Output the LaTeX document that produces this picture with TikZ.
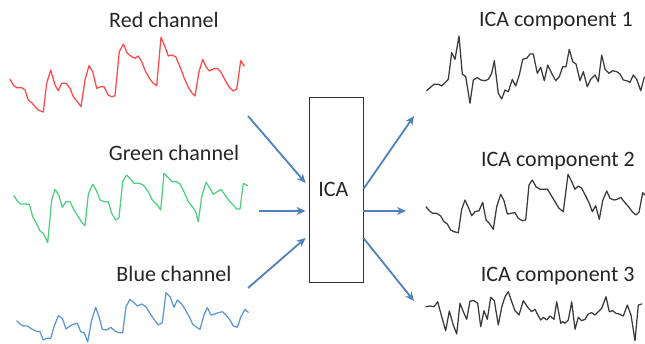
\documentclass[tikz,border=0pt]{standalone}
\usepackage{fontspec}
\setmainfont{Carlito}
\usetikzlibrary{arrows.meta}
\definecolor{sigred}{RGB}{255,72,72}
\definecolor{siggreen}{RGB}{78,208,128}
\definecolor{sigblue}{RGB}{88,152,212}
\definecolor{siggray}{RGB}{58,58,58}
\definecolor{flowblue}{RGB}{79,129,189}
\tikzset{
  label/.style={anchor=base, inner sep=0pt, font=\fontsize{22}{26}\selectfont, text=black!85},
  wave/.style={line width=1.25pt, line join=round, line cap=round},
  flow/.style={draw=flowblue, line width=1.8pt, -{Stealth[length=9pt,width=8pt]}},
  icabox/.style={draw=black!80, line width=0.8pt, fill=white, minimum width=54pt, minimum height=185pt, inner sep=0pt}
}
\begin{document}
\begin{tikzpicture}[x=1pt,y=-1pt]
\useasboundingbox (0,0) rectangle (645,343);
\fill[white] (0,0) rectangle (645,343);

% labels
\node[label] (lred)   at (164,27.3)  {Red channel};
\node[label] (lgreen) at (174,160.7) {Green channel};
\node[label] (lblue)  at (174,281.7) {Blue channel};
\node[label] (lc1)    at (556,26.7)  {ICA component 1};
\node[label] (lc2)    at (558,166.7) {ICA component 2};
\node[label] (lc3)    at (557.7,281) {ICA component 3};

% input signals
\draw[wave, sigred] plot coordinates {
(10,79.3) (13.3,85) (16.7,87.7) (21.7,87.7) (25,90) (28.3,100) (31.7,102.7) (35,106.7) (38.3,110) (43.3,112)
(46.7,83.3) (50.7,70) (55,85) (58.3,90.7) (61.7,83.3) (66,83.3) (70,88.3) (73.3,96.7) (77.3,101.7) (81,106.7)
(85,80) (89,65.7) (92.7,71.7) (96.7,88.3) (100.7,86.7) (104,86.7) (108.3,95) (111.7,96.7) (115,95.7)
(119.3,51.7) (123.3,44) (127.3,53.3) (131.7,56.7) (135,58.3) (138.3,56) (141.7,61.7) (145.7,71.7) (150,79.3)
(153.3,83.3) (156.7,85.7) (161,37.3) (165,46.7) (168.3,56) (171.7,55) (175.7,56.7) (180,66.7) (184.3,78.3)
(188.3,87.3) (191.7,92.7) (195,96) (199,71.7) (202.7,59.3) (206,66.7) (209.3,71) (213.3,69) (217.3,68.3)
(220.7,71.7) (225,80) (229.3,87.3) (233.3,91) (236.7,89.3) (240.7,60.7) (244.3,66)};

\draw[wave, siggreen] plot coordinates {
(14,195.7) (17.3,201) (20.7,204) (25,204) (29.3,204.3) (32.7,216.7) (36,222.3) (40,231) (43.3,233.3) (47.7,242.7)
(51.7,200) (55,189.3) (59,195.7) (62.3,207.3) (66,201.7) (70,201.7) (74,210) (77.3,215) (81.7,222.3) (85,225.7)
(88.3,194.3) (92.7,184.3) (96.7,191) (100,200) (104,201.7) (108.3,201.7) (111.7,213.3) (115.7,220) (119,217.7)
(122.7,181.7) (126.7,175) (130.7,179.3) (134,183.3) (139.3,183.3) (143.3,185) (148.3,191.7) (152.3,200)
(156.7,204.3) (160.7,210) (164,173.3) (168.3,177.7) (172.3,181.7) (176.7,181.7) (180,184) (184,191.7)
(188.3,201.7) (192.3,206.7) (195.7,211.7) (198.3,221.7) (201.7,196.7) (206,182.3) (210,188.3) (213.3,194.3)
(217.3,191.7) (221,189.3) (225,195) (229.3,201) (233.3,205) (236.7,209) (240,209) (243.3,183.3) (247.3,185.7)};

\draw[wave, sigblue] plot coordinates {
(16.7,320.7) (20,324) (23.3,326) (27.3,326) (31.7,329) (36,331) (40,331.7) (43.3,340) (46.7,338.3) (50.7,338.3)
(54,326.7) (58.3,315.7) (62.3,318.3) (66,329) (70,326) (73.3,324.3) (77.3,323.3) (80.7,331.7) (84,332.7)
(87.7,341.7) (91.7,320) (95.7,307.3) (99,316.7) (102.3,329.3) (106.7,330) (110.7,327.3) (115,331) (119,332.7)
(122.7,332.7) (126,306.7) (130,299.3) (134,302.7) (137.3,306) (141.7,304) (145.7,306.7) (150,313.3) (154,319.3)
(158.3,325) (162.3,322.7) (166,292.7) (170,296.7) (174,307.3) (177.3,300) (181.7,304) (185,309.3) (189.3,316.7)
(192.7,324.3) (196.7,327.3) (200,329.3) (204,315) (207.3,307.7) (211,315) (215,314) (218.3,312.7) (222.3,311.7)
(226,315) (230,320) (233.3,326) (237.3,327.3) (240.7,317.3) (245,309.3) (248.3,312.3)};

% separated components
\draw[wave, siggray] plot coordinates {
(426.7,90.7) (430,87.7) (434,84.3) (438.3,84.3) (441.7,86) (445,82.7) (448.3,79.3) (451.7,52.7) (455,59.3) (459,36)
(462.3,74) (465.7,76.7) (470,103.3) (473.3,80) (477.3,77.7) (481,80) (485,80.7) (488.3,79.3) (491.7,73.3)
(494.3,60.7) (498.3,93.3) (501.7,99) (505,90) (508.3,91.7) (512.3,79.3) (515.7,86) (519.3,75) (522.7,59.3)
(526.7,58.3) (530,54) (533.3,54) (537.3,73.3) (540.7,67.3) (544.3,80.7) (547.7,65) (551.7,73.3) (555.7,80.7)
(559.3,76.7) (562.7,66.7) (566,66.7) (569.3,49.3) (572.7,61.7) (576,64) (580,80.7) (583.3,71.7) (587.3,86.7)
(590.7,79.3) (595,75) (598.3,81.7) (601.7,55) (605,69.3) (609,73.3) (612.7,70.7) (616.7,71.7) (620,74) (623.3,80)
(626.7,80.7) (630,82.3) (633.3,75) (636.7,79.3) (640.7,90.7) (644.3,77.3)};

\draw[wave, siggray] plot coordinates {
(426,206.7) (429.3,210.7) (432.7,213.3) (436.7,213.3) (440.7,216) (444,221.7) (447.3,224) (450.7,230) (454,231.7)
(458.3,232.7) (461.7,209.3) (465,200) (468.3,207.3) (471.7,215.7) (475,211.7) (479,210.7) (482.7,202.3) (486,220)
(489.3,223.3) (493.3,229.3) (496.7,206.7) (500.7,194.3) (504,200.7) (507.3,214) (511,213.3) (515,212.7)
(518.3,218.3) (522.3,220.7) (525.7,220) (529,185) (532.3,180) (536,186.7) (540,189.3) (544,189.3) (547.3,189)
(551,195) (555,201.7) (559,208.3) (563.3,211.7) (568,174.3) (571.7,181.7) (575,189.3) (578.3,186) (581.7,188.3)
(585.7,196) (589,202.7) (592.3,211.7) (595.7,205.7) (599.3,219.3) (602.7,200.7) (606.7,191) (610,198.3) (614,200)
(617.3,199.3) (620.7,197.3) (625,202.7) (629,207.3) (632.3,211.7) (635.7,215) (639,212.3) (642.7,192.7) (645,195)};

\draw[wave, siggray] plot coordinates {
(426,306.7) (430,306) (434,306.7) (437.7,301.7) (441.7,316.7) (445.7,330.7) (449.3,311) (453.3,325) (456.7,334)
(460,303.3) (463.3,311.7) (466.7,319.3) (470,301) (474,300.7) (477.7,303.3) (480.7,326.7) (484,310.7) (487.3,319.3)
(490.7,297.3) (494.3,300.7) (498.3,325) (501.7,307.3) (505,296.7) (508.3,291.7) (511.7,301.7) (515,310.7) (519,315)
(523.3,300.7) (527.3,306.7) (531.7,311.7) (535,309.3) (537.3,314) (540.7,320) (543.3,317.3) (546.7,320) (550,316)
(554,319.3) (556.7,301.7) (560.7,323.3) (562.7,321.7) (565,323.3) (568.3,320) (571.7,301.7) (575,329.3)
(578.3,317.3) (581.7,320.7) (585,319.3) (588.3,314) (591.7,312.7) (595,315) (598.3,311.7) (601.7,308.3) (606,296.7)
(609.3,311.7) (612.7,310.7) (616,313.3) (619.3,314) (623.3,316) (627.3,305) (631,315) (635,340.7) (638.3,305)
(641.7,304)};

% ICA block
\node[icabox] (ica) at (336,189.5) {};
\node[label] (icatext) at (333.3,196.7) {ICA};

% arrow tails and heads
\coordinate (inR) at (248,116);
\coordinate (inG) at (259,211);
\coordinate (inB) at (248,288);
\coordinate (out1) at (414,116);
\coordinate (out2) at (406,211);
\coordinate (out3) at (414,301);

\draw[flow] (inR) -- ([xshift=-3pt,yshift=6.5pt]ica.west);
\draw[flow] (inG) -- ([xshift=-3pt,yshift=-21.5pt]ica.west);
\draw[flow] (inB) -- ([xshift=-3pt,yshift=-48.5pt]ica.west);
\draw[flow] ([yshift=0.5pt]ica.east) -- (out1);
\draw[flow] ([yshift=-21.5pt]ica.east) -- (out2);
\draw[flow] ([yshift=-48.5pt]ica.east) -- (out3);
\end{tikzpicture}
\end{document}
